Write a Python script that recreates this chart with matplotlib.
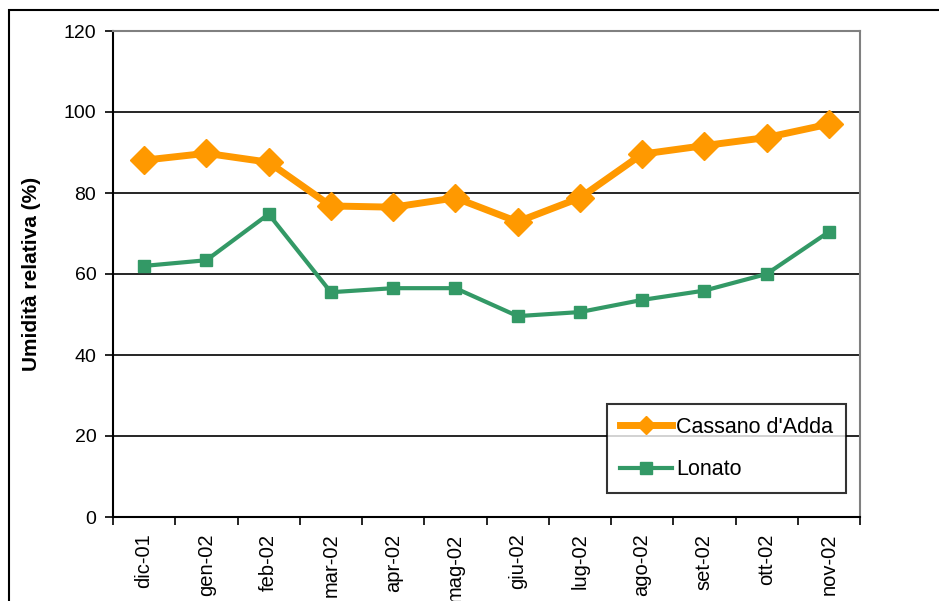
import matplotlib
matplotlib.use("Agg")
import matplotlib.pyplot as plt
from matplotlib.patches import Rectangle

plt.rcParams['font.family'] = ['Liberation Sans', 'DejaVu Sans']

months = ["dic-01", "gen-02", "feb-02", "mar-02", "apr-02", "mag-02",
          "giu-02", "lug-02", "ago-02", "set-02", "ott-02", "nov-02"]
cassano = [88.1, 89.8, 87.6, 76.8, 76.5, 78.8, 72.9, 78.8, 89.6, 91.7, 93.7, 97.0]
lonato = [62.0, 63.4, 74.8, 55.5, 56.5, 56.5, 49.6, 50.6, 53.6, 55.9, 60.0, 70.4]
yticks = [0, 20, 40, 60, 80, 100, 120]

W, H = 939, 601
fig = plt.figure(figsize=(W / 100, H / 100), dpi=100)
ax = fig.add_axes([113 / W, 1 - 517 / H, (860 - 113) / W, (517 - 31) / H])

# outer chart-area border (left and top visible)
fig.add_artist(Rectangle((9 / W, -0.1), 1.2, 1 - 10 / H + 0.1, transform=fig.transFigure,
                         fill=False, edgecolor='black', linewidth=1.5))

x = list(range(len(months)))
ax.plot(x, cassano, color='#FF9900', linewidth=5, marker='D', markersize=14,
        label="Cassano d'Adda", zorder=3, clip_on=False)
ax.plot(x, lonato, color='#339966', linewidth=3, marker='s', markersize=8.5,
        label="Lonato", zorder=3, clip_on=False)

ax.set_xlim(-0.5, len(months) - 0.5)
ax.set_ylim(0, 120)
ax.set_yticks(yticks)
ax.set_yticklabels([str(v) for v in yticks], fontsize=14)
ax.yaxis.grid(True, color='black', linewidth=1.2)
ax.set_axisbelow(True)

ax.set_xticks([i - 0.5 for i in range(len(months) + 1)])
ax.set_xticklabels([])
ax.set_xticks(x, minor=True)
ax.set_xticklabels(months, minor=True, rotation=90, fontsize=14.5)
ax.tick_params(axis='x', which='minor', length=0, pad=12)
ax.tick_params(axis='x', which='major', length=6, width=1.2, direction='out')
ax.tick_params(axis='y', length=6, width=1.2, direction='out', pad=6)

for s in ['top', 'right']:
    ax.spines[s].set_color('#808080')
    ax.spines[s].set_linewidth(1.5)
for s in ['left', 'bottom']:
    ax.spines[s].set_color('black')
    ax.spines[s].set_linewidth(1.5)

ax.set_ylabel("Umidità relativa (%)", fontsize=15, fontweight='bold', labelpad=16)

leg = ax.legend(loc='lower right', bbox_to_anchor=((846 - 113) / (860 - 113), (517 - 493) / (517 - 31)),
                fontsize=15.5, frameon=True, fancybox=False, edgecolor='black',
                handlelength=2.4, borderpad=0.6, labelspacing=1.0, handletextpad=0.2,
                borderaxespad=0)
leg.get_frame().set_linewidth(1.5)
for h in leg.legend_handles:
    h.set_markersize(9)

fig.savefig("out.png", dpi=100, facecolor='white')
